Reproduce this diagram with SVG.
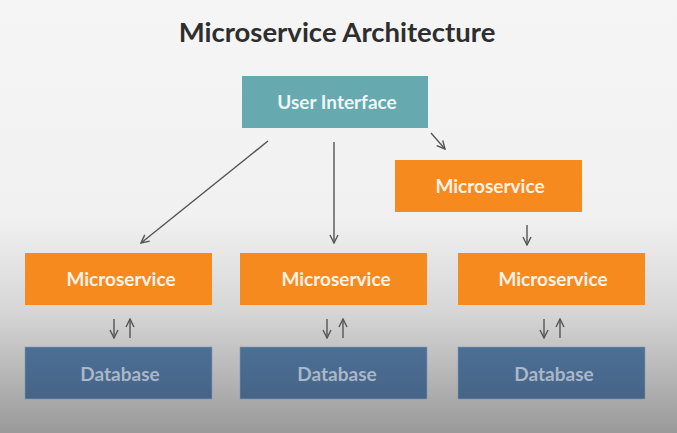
<svg xmlns="http://www.w3.org/2000/svg" width="677" height="433" viewBox="0 0 677 433">
  <defs>
    <linearGradient id="bg" x1="0" y1="0" x2="0" y2="1">
      <stop offset="0" stop-color="#f5f5f5"/>
      <stop offset="0.5" stop-color="#f1f1f1"/>
      <stop offset="0.72" stop-color="#d6d6d6"/>
      <stop offset="1" stop-color="#999"/>
    </linearGradient>
    <linearGradient id="db" x1="0" y1="0" x2="0" y2="1">
      <stop offset="0" stop-color="#4d6f95"/>
      <stop offset="1" stop-color="#456487"/>
    </linearGradient>
    <marker id="head" viewBox="0 0 10 10" refX="9" refY="5" markerWidth="10" markerHeight="10" markerUnits="userSpaceOnUse" orient="auto">
      <path d="M1,1 L9,5 L1,9" fill="none" stroke="#555" stroke-width="1.4"/>
    </marker>
    <style>
      .box-ui { fill: #66a9ae; }
      .box-ms { fill: #f78a1f; }
      .box-db { fill: url(#db); stroke: #7f98b3; stroke-width: 0.6; }
      .lbl { font-family: Lato, "Open Sans", "Liberation Sans", sans-serif; font-weight: bold; font-size: 19px; text-anchor: middle; }
      .lbl-ui { fill: #eef6f6; }
      .lbl-ms { fill: #fff3e6; }
      .lbl-db { fill: #a9b7c8; }
      .title { font-family: Lato, "Open Sans", "Liberation Sans", sans-serif; font-weight: bold; font-size: 27.5px; fill: #2e2e2e; text-anchor: middle; }
      .conn line { stroke: #555; stroke-width: 1.4; fill: none; marker-end: url(#head); }
    </style>
  </defs>

  <rect x="0" y="0" width="677" height="433" fill="url(#bg)"/>

  <text class="title" x="337" y="42">Microservice Architecture</text>

  <g id="user-interface">
    <rect class="box-ui" x="242" y="76" width="186" height="52"/>
    <text class="lbl lbl-ui" x="337" y="109">User Interface</text>
  </g>

  <g id="microservice-top">
    <rect class="box-ms" x="395" y="160" width="187" height="52"/>
    <text class="lbl lbl-ms" x="490" y="193">Microservice</text>
  </g>

  <g id="microservice-1">
    <rect class="box-ms" x="25" y="253" width="187" height="52"/>
    <text class="lbl lbl-ms" x="121" y="286">Microservice</text>
  </g>
  <g id="microservice-2">
    <rect class="box-ms" x="240" y="253" width="187" height="52"/>
    <text class="lbl lbl-ms" x="336" y="286">Microservice</text>
  </g>
  <g id="microservice-3">
    <rect class="box-ms" x="458" y="253" width="187" height="52"/>
    <text class="lbl lbl-ms" x="553" y="286">Microservice</text>
  </g>

  <g id="database-1">
    <rect class="box-db" x="25" y="347" width="187" height="52"/>
    <text class="lbl lbl-db" x="120" y="381">Database</text>
  </g>
  <g id="database-2">
    <rect class="box-db" x="240" y="347" width="187" height="52"/>
    <text class="lbl lbl-db" x="337" y="381">Database</text>
  </g>
  <g id="database-3">
    <rect class="box-db" x="458" y="347" width="187" height="52"/>
    <text class="lbl lbl-db" x="554" y="381">Database</text>
  </g>

  <g id="connectors" class="conn">
    <line x1="268" y1="141" x2="141" y2="243"/>
    <line x1="334" y1="142" x2="334" y2="243"/>
    <line x1="431" y1="133" x2="445" y2="149"/>
    <line x1="527" y1="225" x2="527" y2="245"/>
    <!-- service / database pairs -->
    <line x1="114" y1="319" x2="114" y2="338"/>
    <line x1="130" y1="338" x2="130" y2="319"/>
    <line x1="327" y1="319" x2="327" y2="338"/>
    <line x1="343" y1="338" x2="343" y2="319"/>
    <line x1="544" y1="319" x2="544" y2="338"/>
    <line x1="560" y1="338" x2="560" y2="319"/>
  </g>
</svg>
